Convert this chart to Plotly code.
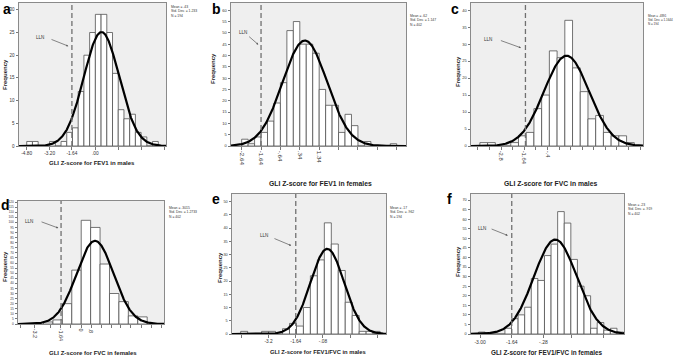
import numpy as np
import plotly.graph_objects as go

# ---------------- data ----------------
# a: GLI Z-score for FEV1 in males
a_bin_start = -4.8
a_bin_width = 0.4
a_counts = [1, 1, 0, 0, 1, 0, 1, 3, 4, 12, 20, 25, 29, 29, 25, 16, 8, 6, 7, 3, 2, 0, 1]
a_mean, a_sd, a_n = 0.43, 1.233, 194
a_stats = ["Mean = .43", "Std. Dev. = 1.233", "N = 194"]
a_ticks = [-4.8, -3.2, -1.64, 0.0, 1.6, 3.2, 4.8]
a_ticklabels = ["-4.80", "-3.20", "-1.64", ".00", "", "", ""]
a_lln = -1.64

# b: GLI Z-score for FEV1 in females
b_bin_start = -2.64
b_bin_width = 1 / 3
b_counts = [3, 1, 4, 6, 11, 19, 28, 51, 55, 45, 45, 41, 25, 18, 18, 6, 14, 9, 0, 2, 0, 0, 0, 1]
b_mean, b_sd, b_n = 0.62, 1.147, 402
b_stats = ["Mean = .62", "Std. Dev. = 1.147", "N = 402"]
b_ticks = [-2.64, -1.64, -0.64, 0.36, 1.36, 2.36, 3.36, 4.36, 5.36]
b_ticklabels = ["-2.64", "-1.64", "-.64", ".34", "1.34", "", "", "", ""]
b_lln = -1.64

# c: GLI Z-score for FVC in males
c_bin_start = -4.0
c_bin_width = 0.4
c_counts = [1, 1, 0, 0, 1, 3, 4, 11, 15, 28, 26, 37, 23, 16, 8, 9, 4, 3, 3, 1]
c_mean, c_sd, c_n = 0.4891, 1.1644, 194
c_stats = ["Mean = .4891", "Std. Dev. = 1.1644", "N = 194"]
c_ticks = [-4.1, -3.5, -2.9, -2.3, -1.7, -1.1, -0.5, 0.1, 0.7, 1.3, 1.9, 2.5, 3.1, 3.7, 4.3]
c_ticklabels = ["", "", "-2.8", "", "-1.64", "", "-.4", "", "", "", "", "", "", "", ""]
c_lln = -1.64

# d: GLI Z-score for FVC in females
d_bin_start = -3.25
d_bin_width = 0.65
d_counts = [2, 4, 20, 53, 102, 95, 59, 30, 22, 8, 7]
d_mean, d_sd, d_n = 0.3015, 1.2733, 402
d_stats = ["Mean = .3015", "Std. Dev. = 1.2733", "N = 402"]
d_ticks = [-4.87, -3.84, -2.75, -2.06, -1.37, -0.66, 0.03, 0.72, 1.41, 2.09, 2.78, 3.52, 4.21, 4.9]
d_ticklabels = ["", "-3.2", "", "-1.64", "", "0", ".8", "", "", "", "", "", "", ""]
d_lln = -2.04

# e: GLI Z-score for FEV1/FVC in males
e_bin_start = -4.8
e_bin_width = 0.4
e_counts = [1, 0, 0, 1, 1, 0, 2, 4, 3, 10, 22, 28, 42, 34, 24, 12, 7, 1, 1, 1]
e_mean, e_sd, e_n = 0.17, 0.962, 194
e_stats = ["Mean = .17", "Std. Dev. = .962", "N = 194"]
e_ticks = [-4.76, -3.2, -1.64, -0.08, 1.48, 3.04]
e_ticklabels = ["", "-3.2", "-1.64", "-.08", "", ""]
e_lln = -1.64

# f: GLI Z-score for FEV1/FVC in females
f_bin_start = -3.065
f_bin_width = 0.283
f_counts = [1, 0, 0, 0, 3, 8, 10, 14, 29, 28, 41, 47, 64, 58, 39, 25, 20, 3, 6, 2, 3, 1]
f_mean, f_sd, f_n = 0.23, 0.919, 402
f_stats = ["Mean = .23", "Std. Dev. = .919", "N = 402"]
f_ticks = [-3.0, -1.64, -0.28, 0.94, 2.29]
f_ticklabels = ["-3.00", "-1.64", "-.28", "", ""]
f_lln = -1.64

titles = ["GLI Z-score for FEV1 in males", "GLI Z-score for FEV1 in females",
          "GLI Z-score for FVC in males", "GLI Z-score for FVC in females",
          "GLI Z-score for FEV1/FVC in males", "GLI Z-score for FEV1/FVC in females"]
letters = ["a", "b", "c", "d", "e", "f"]

# ---------------- layout / style (pixels in a 685 x 361 canvas) ----------------
W, H = 685, 361
FONT = "Liberation Sans, Arial, sans-serif"

panels = [
    dict(counts=a_counts, start=a_bin_start, w=a_bin_width, mean=a_mean, sd=a_sd, n=a_n,
         stats=a_stats, ticks=a_ticks, labels=a_ticklabels, lln=a_lln,
         box=(19, 166, 3, 146), xr=(-5.34, 4.94), yr=(0, 31.5), tangle=0, tfs=4.8, yfs=4.5,
         title_xy=(92, 163), tfont=6.0, freq_xy=(5, 75), letter_xy=(7, 9), stats_xy=(169, 3), sfs=3.4,
         lln_text=(-3.9, 23.8), lln_tail=(-3.17, 23.6), lln_head=(-1.89, 22.0)),
    dict(counts=b_counts, start=b_bin_start, w=b_bin_width, mean=b_mean, sd=b_sd, n=b_n,
         stats=b_stats, ticks=b_ticks, labels=b_ticklabels, lln=b_lln,
         box=(231, 406, 3, 146), xr=(-3.19, 5.84), yr=(0, 63.2), tangle=90, tfs=6.2, yfs=4.0,
         title_xy=(320, 183), tfont=6.8, freq_xy=(213, 68), letter_xy=(216, 9), stats_xy=(408, 12), sfs=3.4,
         lln_text=(-2.56, 50.2), lln_tail=(-2.33, 48.9), lln_head=(-1.78, 44.8)),
    dict(counts=c_counts, start=c_bin_start, w=c_bin_width, mean=c_mean, sd=c_sd, n=c_n,
         stats=c_stats, ticks=c_ticks, labels=c_ticklabels, lln=c_lln,
         box=(471, 643, 3, 146), xr=(-4.46, 4.45), yr=(0, 42.1), tangle=90, tfs=5.8, yfs=4.0,
         title_xy=(551, 183), tfont=6.8, freq_xy=(458, 72), letter_xy=(455, 9), stats_xy=(646, 12), sfs=3.0,
         lln_text=(-3.58, 31.4), lln_tail=(-2.99, 31.2), lln_head=(-1.87, 28.9)),
    dict(counts=d_counts, start=d_bin_start, w=d_bin_width, mean=d_mean, sd=d_sd, n=d_n,
         stats=d_stats, ticks=d_ticks, labels=d_ticklabels, lln=d_lln,
         box=(18, 164, 201, 324), xr=(-5.01, 5.06), yr=(0, 121), tangle=90, tfs=5.5, yfs=3.2,
         title_xy=(93, 353), tfont=6.0, freq_xy=(5, 267), letter_xy=(5, 205), stats_xy=(167, 204), sfs=3.4,
         lln_text=(-4.28, 101.3), lln_tail=(-3.49, 101.0), lln_head=(-2.23, 94.4)),
    dict(counts=e_counts, start=e_bin_start, w=e_bin_width, mean=e_mean, sd=e_sd, n=e_n,
         stats=e_stats, ticks=e_ticks, labels=e_ticklabels, lln=e_lln,
         box=(232, 386, 194, 334), xr=(-5.3, 3.54), yr=(0, 52.9), tangle=0, tfs=4.8, yfs=3.8,
         title_xy=(318, 352), tfont=5.8, freq_xy=(220, 268), letter_xy=(216, 199), stats_xy=(388, 204), sfs=3.4,
         lln_text=(-3.49, 37.2), lln_tail=(-2.95, 36.3), lln_head=(-1.9, 33.4)),
    dict(counts=f_counts, start=f_bin_start, w=f_bin_width, mean=f_mean, sd=f_sd, n=f_n,
         stats=f_stats, ticks=f_ticks, labels=f_ticklabels, lln=f_lln,
         box=(471, 624, 194, 334), xr=(-3.39, 3.18), yr=(0, 73.2), tangle=0, tfs=5.0, yfs=3.8,
         title_xy=(547, 352), tfont=6.4, freq_xy=(458, 262), letter_xy=(449, 199), stats_xy=(626, 201), sfs=3.4,
         lln_text=(-2.91, 55.2), lln_tail=(-2.57, 55.2), lln_head=(-1.81, 51.5)),
]

fig = go.Figure()
annotations = []
layout_axes = {}

for i, p in enumerate(panels):
    k = "" if i == 0 else str(i + 1)
    xa, ya = "x" + k, "y" + k
    counts = np.array(p["counts"], dtype=float)
    centers = p["start"] + (np.arange(len(counts)) + 0.5) * p["w"]

    fig.add_trace(go.Bar(x=centers, y=counts, width=p["w"], xaxis=xa, yaxis=ya,
                         marker=dict(color="white", line=dict(color="#505050", width=0.8)),
                         showlegend=False, hoverinfo="skip"))
    # fitted normal curve from the stated mean / std. dev. / N
    xs = np.linspace(p["xr"][0], p["xr"][1], 400)
    ys = p["n"] * p["w"] * np.exp(-0.5 * ((xs - p["mean"]) / p["sd"]) ** 2) / (p["sd"] * np.sqrt(2 * np.pi))
    fig.add_trace(go.Scatter(x=xs, y=ys, mode="lines", xaxis=xa, yaxis=ya,
                             line=dict(color="black", width=2.2), showlegend=False, hoverinfo="skip"))
    # LLN dashed line
    fig.add_trace(go.Scatter(x=[p["lln"], p["lln"]], y=[p["yr"][0], p["yr"][1]], mode="lines",
                             xaxis=xa, yaxis=ya, line=dict(color="#707070", width=1.3, dash="5px,3px"),
                             showlegend=False, hoverinfo="skip"))

    x0, x1, y0, y1 = p["box"]
    axstyle = dict(showline=True, mirror=True, linecolor="#8a8a8a", linewidth=1,
                   ticks="outside", ticklen=2.5, tickwidth=0.8, tickcolor="#555555",
                   showgrid=False, zeroline=False, automargin=False, fixedrange=True)
    layout_axes["xaxis" + k] = dict(axstyle, domain=[x0 / W, x1 / W], range=list(p["xr"]),
                                    anchor=ya, tickmode="array", tickvals=p["ticks"],
                                    ticktext=p["labels"], tickangle=p["tangle"],
                                    tickfont=dict(size=p["tfs"], color="#333333", family=FONT))
    layout_axes["yaxis" + k] = dict(axstyle, domain=[1 - y1 / H, 1 - y0 / H], range=list(p["yr"]),
                                    anchor=xa, dtick=5, tick0=0,
                                    tickfont=dict(size=p["yfs"], color="#333333", family=FONT))

    annotations.append(dict(text="<b>%s</b>" % titles[i], x=p["title_xy"][0] / W, y=1 - p["title_xy"][1] / H,
                            xref="paper", yref="paper", showarrow=False, xanchor="center", yanchor="middle",
                            font=dict(size=p["tfont"], color="#222222", family=FONT)))
    annotations.append(dict(text="<b>Frequency</b>", x=p["freq_xy"][0] / W, y=1 - p["freq_xy"][1] / H,
                            xref="paper", yref="paper", showarrow=False, textangle=-90,
                            xanchor="center", yanchor="middle",
                            font=dict(size=6.0, color="#222222", family=FONT)))
    annotations.append(dict(text="<b>%s</b>" % letters[i], x=p["letter_xy"][0] / W, y=1 - p["letter_xy"][1] / H,
                            xref="paper", yref="paper", showarrow=False, xanchor="center", yanchor="middle",
                            font=dict(size=14, color="black", family=FONT)))
    annotations.append(dict(text="<br>".join(p["stats"]), x=p["stats_xy"][0] / W, y=1 - p["stats_xy"][1] / H,
                            xref="paper", yref="paper", showarrow=False, xanchor="left", yanchor="top",
                            align="left", font=dict(size=p["sfs"], color="#333333", family=FONT)))
    annotations.append(dict(text="LLN", x=p["lln_text"][0], y=p["lln_text"][1], xref=xa, yref=ya,
                            showarrow=False, font=dict(size=4.6, color="#333333", family=FONT)))
    annotations.append(dict(text="", x=p["lln_head"][0], y=p["lln_head"][1], xref=xa, yref=ya,
                            ax=p["lln_tail"][0], ay=p["lln_tail"][1], axref=xa, ayref=ya,
                            showarrow=True, arrowhead=2, arrowsize=0.6, arrowwidth=0.7,
                            arrowcolor="#555555"))

fig.update_layout(width=W, height=H, margin=dict(l=0, r=0, t=0, b=0, autoexpand=False),
                  paper_bgcolor="white", plot_bgcolor="#efefef", bargap=0, hovermode=False,
                  annotations=annotations, showlegend=False, **layout_axes)

fig.write_html("out.html", config={"displayModeBar": False, "staticPlot": True},
               post_script="document.body.style.margin='0px';document.body.style.overflow='hidden';")
